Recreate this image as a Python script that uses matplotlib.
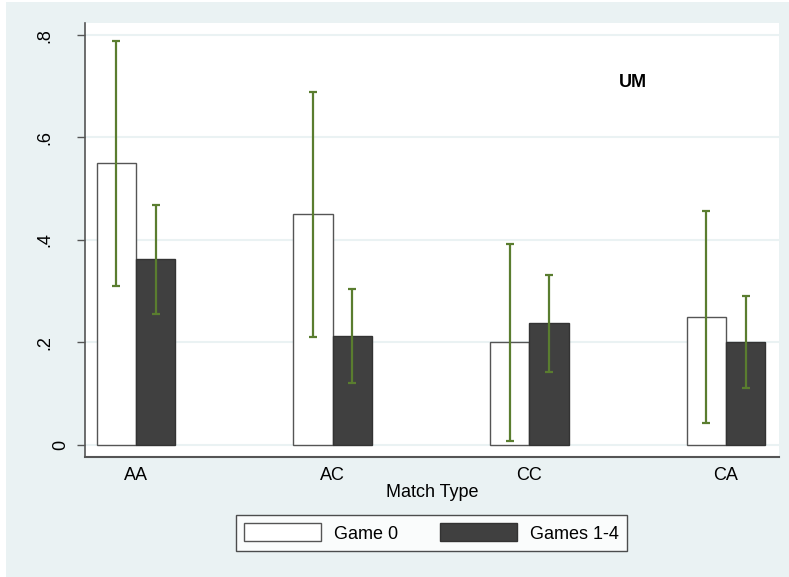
import numpy as np
import matplotlib
matplotlib.use("Agg")
import matplotlib.pyplot as plt
from matplotlib.patches import Rectangle

# ─── DATA ───────────────────────────────────────────────────────────────────

match_types = ["AA", "AC", "CC", "CA"]
series_labels = ["Game 0", "Games 1-4"]

game0_mean = [0.55, 0.45, 0.20, 0.25]
game0_lo = [0.31, 0.211, 0.007, 0.042]
game0_hi = [0.788, 0.688, 0.392, 0.457]

games14_mean = [0.363, 0.212, 0.237, 0.20]
games14_lo = [0.255, 0.121, 0.142, 0.110]
games14_hi = [0.469, 0.305, 0.332, 0.290]

y_ticks = [0, 0.2, 0.4, 0.6, 0.8]
y_ticklabels = ["0", ".2", ".4", ".6", ".8"]

# ─── STYLE ──────────────────────────────────────────────────────────────────

BG = "#EAF2F3"
DARK_BAR = "#404040"
CI_COLOR = "#5A7D2F"
SPINE = "#555555"

plt.rcParams["font.family"] = ["Liberation Sans", "DejaVu Sans"]

fig = plt.figure(figsize=(7.89, 5.77), dpi=100)
fig.patch.set_facecolor("white")
fig.patches.append(Rectangle((6 / 789, 0), 1, 1 - 2 / 577, transform=fig.transFigure,
                             facecolor=BG, edgecolor="none", zorder=-10))

ax = fig.add_axes([85 / 789, 1 - 457 / 577, 694 / 789, 434 / 577])
ax.set_facecolor("white")
ax_w_px = 694

x = np.arange(len(match_types))
width = 0.2

bars0 = ax.bar(x - width / 2, game0_mean, width, color="white", edgecolor=SPINE,
               linewidth=1.0, label=series_labels[0], zorder=2)
bars1 = ax.bar(x + width / 2, games14_mean, width, color=DARK_BAR, edgecolor="#333333",
               linewidth=1.0, label=series_labels[1], zorder=2)

# confidence intervals as capped range bars
for offset, lo, hi in [(-width / 2, game0_lo, game0_hi), (width / 2, games14_lo, games14_hi)]:
    lo = np.array(lo)
    hi = np.array(hi)
    mid = (lo + hi) / 2
    ax.errorbar(x + offset, mid, yerr=(hi - lo) / 2, fmt="none", ecolor=CI_COLOR,
                elinewidth=1.6, capsize=3, capthick=1.6, zorder=3)

ax.set_xlim(-0.26, 3.27)
ax.set_ylim(-0.024, 0.8236)

# y labels drawn by hand: rotated, and the bare "0" sits closer to the axis
ax.set_yticks(y_ticks)
ax.set_yticklabels([])
for yv, lab in zip(y_ticks, y_ticklabels):
    gap = 16 if lab == "0" else 32
    ax.text(-gap / ax_w_px, yv, lab, transform=ax.get_yaxis_transform(),
            rotation=90, ha="right", va="center", fontsize=13)

ax.set_xticks(x)
ax.set_xticklabels(match_types, fontsize=13)
ax.tick_params(axis="x", length=0, pad=7)
ax.tick_params(axis="y", length=6, width=1.0, color=SPINE)

for yv in y_ticks:
    ax.axhline(yv, color=BG, linewidth=1.5, zorder=1)

for side in ["top", "right"]:
    ax.spines[side].set_visible(False)
ax.spines["left"].set_color(SPINE)
ax.spines["bottom"].set_color(SPINE)
ax.spines["left"].set_linewidth(1.2)
ax.spines["bottom"].set_linewidth(1.5)

ax.set_xlabel("Match Type", fontsize=13, labelpad=0)

ax.text(2.527, 0.707, "UM", fontsize=13, fontweight="bold", ha="center", va="center")

leg = fig.legend(handles=[bars0, bars1], labels=series_labels, ncol=2,
                 loc="center", bbox_to_anchor=(431.4 / 789, 1 - 533 / 577),
                 fontsize=13, frameon=True, fancybox=False, handlelength=4.3,
                 handleheight=1.15, handletextpad=0.7, columnspacing=2.3,
                 borderpad=0.45)
leg.get_frame().set_edgecolor("#222222")
leg.get_frame().set_linewidth(1.0)

fig.savefig("out.png", dpi=100, facecolor=fig.get_facecolor())
